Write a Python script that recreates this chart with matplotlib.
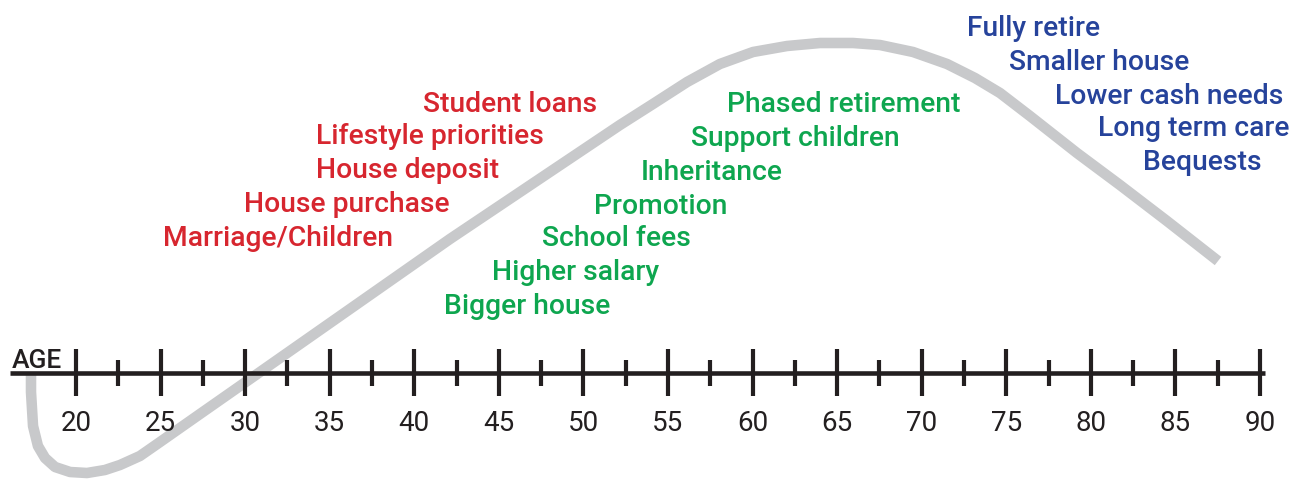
import matplotlib
matplotlib.use("Agg")
import matplotlib.pyplot as plt
import numpy as np

# wealth curve over a lifetime (age, relative wealth; 0 = the age axis)
curve_age = [17.34, 17.34, 17.46, 17.75, 18.17, 18.76, 19.65, 20.65, 21.71, 22.60,
             23.78, 24.97, 27.33, 30.88, 42.11, 52.16, 54.11, 56.13, 58.07,
             60.03, 62.04, 63.99, 65.94, 67.53, 69.49, 71.50, 73.15, 74.63, 76.40,
             79.18, 81.72, 84.50, 87.52]
curve_wealth = [-2, -19, -53, -73, -85, -94, -99, -100, -97, -92,
                -83, -69, -41, 1, 134, 248, 269, 291, 309,
                321, 327, 330, 330, 328, 321, 309, 295, 280, 257,
                220, 188, 152, 112]

major_ages = np.arange(20, 91, 5)
minor_ages = np.arange(22.5, 90, 5)

red_labels = ["Student loans", "Lifestyle priorities", "House deposit",
              "House purchase", "Marriage/Children"]
red_x = [40.51, 34.19, 34.19, 29.93, 25.14]
red_y = [270, 237, 203, 169, 136]

green_labels = ["Phased retirement", "Support children", "Inheritance",
                "Promotion", "School fees", "Higher salary", "Bigger house"]
green_x = [58.49, 56.36, 53.40, 50.63, 47.55, 44.59, 41.76]
green_y = [269, 236, 202, 168, 135, 102, 68]

blue_labels = ["Fully retire", "Smaller house", "Lower cash needs",
               "Long term care", "Bequests"]
blue_x = [72.68, 75.16, 77.88, 80.42, 83.08]
blue_y = [345, 312, 278, 245, 212]

RED = "#d7262f"
GREEN = "#0ea64f"
BLUE = "#26439b"
GRAY = "#c8c9cb"
DARK = "#231f20"

plt.rcParams['font.family'] = ['Roboto', 'DejaVu Sans']

fig = plt.figure(figsize=(12.93, 4.85), dpi=100)
ax = fig.add_axes([0, 0, 1, 1])
ax.set_xlim(15.507, 15.507 + 1293 / 16.914)
ax.set_ylim(-111, 374)
ax.axis("off")

# curve
ax.plot(curve_age, curve_wealth, color=GRAY, lw=7.6, solid_capstyle="butt",
        solid_joinstyle="round", zorder=1)

# age axis
ax.plot([16.10, 90.30], [0, 0], color=DARK, lw=3.3, solid_capstyle="butt", zorder=2)
ax.vlines(major_ages, -23, 24, color=DARK, lw=3.0, zorder=2)
ax.vlines(minor_ages, -13, 13, color=DARK, lw=3.0, zorder=2)
for a in major_ages:
    ax.text(a, -50, str(a), ha="center", va="center", fontsize=20, color=DARK)
ax.text(16.22, 6, "AGE", ha="left", va="baseline", fontsize=19, color=DARK,
        fontweight="medium")

for labels, xs, ys, c in [(red_labels, red_x, red_y, RED),
                          (green_labels, green_x, green_y, GREEN),
                          (blue_labels, blue_x, blue_y, BLUE)]:
    for t, x, y in zip(labels, xs, ys):
        ax.text(x, y, t, ha="left", va="center", fontsize=20.3, color=c,
                fontweight="medium")

fig.savefig("out.png", dpi=100)
